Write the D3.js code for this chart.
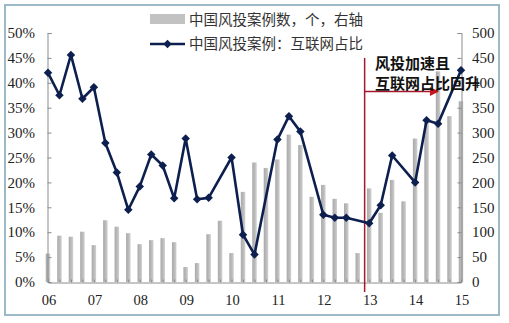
<!DOCTYPE html>
<html><head><meta charset="utf-8">
<script src="https://cdnjs.cloudflare.com/ajax/libs/d3/7.8.5/d3.min.js"></script>
<style>
html,body{margin:0;padding:0;background:#fff;}
svg{display:block;}
</style></head>
<body>
<script>
// ---- data ----
const yearLabels = ["06","07","08","09","10","11","12","13","14","15"];
// quarterly VC deal counts (right axis), 06Q1 .. 15Q1
const dealCounts = [57,93,91,101,74,124,111,98,76,84,88,80,30,38,96,123,58,181,240,229,246,296,275,171,195,167,158,58,188,139,205,162,288,320,423,333,363];
// internet share of VC deals (left axis, %), null = no marker
const internetShare = [42.0,37.5,45.6,36.8,39.1,27.9,22.0,14.5,19.2,25.6,23.4,16.8,28.8,16.6,16.9,null,25.0,9.5,5.5,null,28.6,33.3,30.2,null,13.5,12.9,12.9,null,11.8,15.4,25.4,null,20.0,32.5,31.8,null,42.5];
const leftTicks = [0,5,10,15,20,25,30,35,40,45,50];
const rightTicks = [0,50,100,150,200,250,300,350,400,450,500];
const legendBar = "中国风投案例数，个，右轴";
const legendLine = "中国风投案例：互联网占比";
const noteLines = ["风投加速且","互联网占比回升"];
const markerQuarter = 27.6;   // red divider position (quarter index)
const arrowEndQuarter = 34.0;

const W = 509, H = 323;
const svg = d3.select("body").append("svg").attr("width", W).attr("height", H);

// frame
svg.append("rect").attr("x",5).attr("y",5).attr("width",494).attr("height",310)
  .attr("fill","#fff").attr("stroke","#9cb9c9").attr("stroke-width",2);

const x = d3.scaleLinear().domain([0,36]).range([48,461]);
const yL = d3.scaleLinear().domain([0,50]).range([282,33]);
const yR = d3.scaleLinear().domain([0,500]).range([282,33]);

const defs = svg.append("defs");
const grad = defs.append("linearGradient").attr("id","barg").attr("x1","0").attr("x2","1");
grad.append("stop").attr("offset","0").attr("stop-color","#a9a9a9");
grad.append("stop").attr("offset","0.6").attr("stop-color","#bdbdbd");
grad.append("stop").attr("offset","1").attr("stop-color","#d2d2d2");

// bars
const bw = 4.5;
svg.append("g").selectAll("rect").data(dealCounts).join("rect")
  .attr("x",(d,i)=>x(i)-bw/2).attr("width",bw)
  .attr("y",d=>yR(d)).attr("height",d=>yR(0)-yR(d))
  .attr("fill","url(#barg)");

// axes
const axisColor = "#8c8c8c";
const fontNum = "'Liberation Serif','Times New Roman',serif";
const gL = svg.append("g").attr("transform","translate(47.5,0)")
  .call(d3.axisRight(yL).tickValues(leftTicks).tickSize(4).tickFormat(""));
const gR = svg.append("g").attr("transform","translate(461.5,0)")
  .call(d3.axisLeft(yR).tickValues(rightTicks).tickSize(4).tickFormat(""));
const gB = svg.append("g").attr("transform","translate(0,282.5)")
  .call(d3.axisTop(x).tickValues(d3.range(0,37)).tickSize(3).tickFormat(""));
[gL,gR,gB].forEach(g=>{
  g.select(".domain").attr("stroke",axisColor);
  g.selectAll(".tick line").attr("stroke",axisColor);
});

// tick labels
svg.append("g").selectAll("text").data(leftTicks).join("text")
  .attr("x",35).attr("y",d=>yL(d)).attr("dy","0.35em").attr("text-anchor","end")
  .style("font-family",fontNum).style("font-size","15px").attr("fill","#222")
  .text(d=>d+"%");
svg.append("g").selectAll("text").data(rightTicks).join("text")
  .attr("x",472).attr("y",d=>yR(d)).attr("dy","0.35em").attr("text-anchor","start")
  .style("font-family",fontNum).style("font-size","15px").attr("fill","#222")
  .text(d=>d);
svg.append("g").selectAll("text").data(yearLabels).join("text")
  .attr("x",(d,i)=>x(i*4)+1).attr("y",305).attr("text-anchor","middle")
  .style("font-family",fontNum).style("font-size","14.5px").attr("fill","#222")
  .text(d=>d);

// red divider & arrow
const red = "#a5182c";
svg.append("line").attr("x1",x(markerQuarter)).attr("x2",x(markerQuarter))
  .attr("y1",58).attr("y2",292).attr("stroke",red).attr("stroke-width",1.5);
defs.append("marker").attr("id","arrow").attr("viewBox","0 0 10 10")
  .attr("refX",9).attr("refY",5).attr("markerWidth",11).attr("markerHeight",9)
  .attr("markerUnits","userSpaceOnUse").attr("orient","auto")
  .append("path").attr("d","M0,0L10,5L0,10Z").attr("fill","#c8141c");
svg.append("line").attr("x1",x(markerQuarter)).attr("x2",x(arrowEndQuarter))
  .attr("y1",91.5).attr("y2",91.5).attr("stroke",red).attr("stroke-width",1.5)
  .attr("marker-end","url(#arrow)");

// line series
const pts = internetShare.map((v,i)=>({i,v})).filter(d=>d.v!==null);
const navy = "#0d1f4e";
svg.append("path").datum(pts)
  .attr("d",d3.line().x(d=>x(d.i)).y(d=>yL(d.v)))
  .attr("fill","none").attr("stroke",navy).attr("stroke-width",2.6).attr("stroke-linejoin","round");
const diamond = d3.symbol().type(d3.symbolDiamond2 || d3.symbolDiamond).size(48);
svg.append("g").selectAll("path").data(pts).join("path")
  .attr("transform",d=>`translate(${x(d.i)},${yL(d.v)}) rotate(${d3.symbolDiamond2?0:0})`)
  .attr("d",d3.symbol().type(d3.symbolSquare).size(36)).attr("transform",d=>`translate(${x(d.i)},${yL(d.v)}) rotate(45)`)
  .attr("fill",navy);

// annotation
const cjk = "'Noto Sans CJK SC','Noto Sans',sans-serif";
svg.append("g").selectAll("text").data(noteLines).join("text")
  .attr("x",375).attr("y",(d,i)=>64+i*19.5).attr("dy","0.36em")
  .style("font-family",cjk).style("font-size","15px").style("font-weight","700").attr("fill","#111")
  .text(d=>d);

// legend
svg.append("rect").attr("x",150).attr("y",14).attr("width",35).attr("height",10).attr("fill","#c2c2c2");
svg.append("text").attr("x",189).attr("y",19.5).attr("dy","0.36em")
  .style("font-family",cjk).style("font-size","14.5px").attr("fill","#333").text(legendBar);
svg.append("line").attr("x1",150).attr("x2",185).attr("y1",44).attr("y2",44)
  .attr("stroke",navy).attr("stroke-width",2.6);
svg.append("path").attr("d",d3.symbol().type(d3.symbolSquare).size(36))
  .attr("transform","translate(167.5,44) rotate(45)").attr("fill",navy);
svg.append("text").attr("x",189).attr("y",44).attr("dy","0.36em")
  .style("font-family",cjk).style("font-size","14.5px").attr("fill","#333").text(legendLine);
</script>
</body></html>
